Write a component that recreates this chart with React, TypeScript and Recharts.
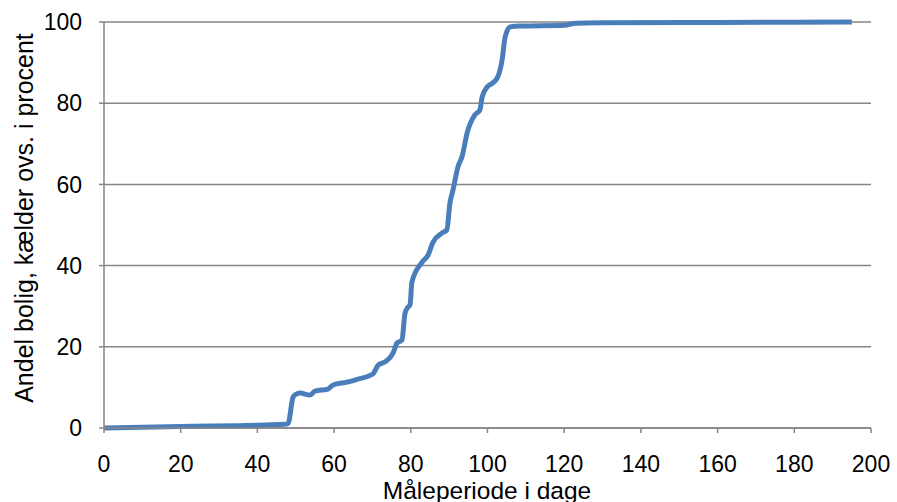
import { CartesianGrid, Line, LineChart, XAxis, YAxis } from "recharts";

// Måleperiode (dage) og andel i procent, aflæst fra kurven
const days = [
  0, 20, 40, 47, 48, 49.3, 50, 51.1, 53.7, 55, 58.4, 59.7, 63.4, 66, 70.1,
  71.5, 73.3, 75.4, 76.4, 77.7, 78.5, 79.3, 79.8, 80.3, 83, 84.5, 85.8, 88.1,
  89.4, 90.2, 91, 92.3, 93.4, 94.7, 96.7, 98, 98.6, 99.9, 101.4, 102.7, 103.8,
  104.6, 105.9, 108.5, 120, 123, 130, 160, 195,
];
const percent = [
  0, 0.4, 0.7, 0.9, 1.1, 7.6, 8.3, 8.6, 8.1, 9.1, 9.6, 10.6, 11.3, 12, 13.3,
  15.5, 16.3, 18.5, 20.9, 21.7, 28.3, 29.8, 30.3, 36, 40.9, 42.6, 45.8, 48,
  48.8, 55.4, 58.6, 64.3, 67, 72.7, 77.1, 78.3, 81.5, 84, 85, 86.5, 90.6, 96.3,
  98.8, 99, 99.2, 99.7, 99.8, 99.9, 100,
];
const xTicks = [0, 20, 40, 60, 80, 100, 120, 140, 160, 180, 200];
const yTicks = [0, 20, 40, 60, 80, 100];

const data = days.map((d, i) => ({ day: d, pct: percent[i] }));

const font = "'Liberation Sans', Arial, sans-serif";
const gray = "#868686";

function App() {
  return (
    <div style={{ position: "absolute", left: 0, top: 0 }}>
      <LineChart
        width={897}
        height={502}
        data={data}
        margin={{ top: 22, right: 26, bottom: 0, left: 0 }}
      >
        <CartesianGrid vertical={false} stroke={gray} strokeWidth={1.5} />
        <XAxis
          dataKey="day"
          type="number"
          domain={[0, 200]}
          ticks={xTicks}
          height={74}
          stroke={gray}
          strokeWidth={1.5}
          tickSize={5}
          tickMargin={23}
          tick={{ fill: "#000", fontSize: 23, fontFamily: font }}
          interval={0}
        />
        <YAxis
          type="number"
          domain={[0, 100]}
          ticks={yTicks}
          width={104}
          stroke={gray}
          strokeWidth={1.5}
          tickSize={5}
          tickMargin={17}
          tick={{ fill: "#000", fontSize: 23, fontFamily: font }}
          interval={0}
        />
        <Line
          dataKey="pct"
          type="monotone"
          stroke="#4a7ebb"
          strokeWidth={5}
          dot={false}
          isAnimationActive={false}
        />
        <text
          x={487}
          y={499}
          textAnchor="middle"
          fontSize={24.5}
          fontFamily={font}
          fill="#000"
        >
          Måleperiode i dage
        </text>
        <text
          x={0}
          y={0}
          transform="translate(33, 218) rotate(-90)"
          textAnchor="middle"
          fontSize={25}
          fontFamily={font}
          fill="#000"
        >
          Andel bolig, kælder ovs. i procent
        </text>
      </LineChart>
    </div>
  );
}

export default App;
